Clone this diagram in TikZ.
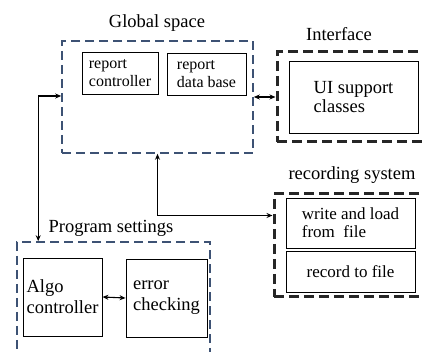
\documentclass[tikz,border=0pt]{standalone}
\usepackage{fontspec}
\setmainfont{Liberation Serif}
\usetikzlibrary{positioning,calc,arrows.meta}
\definecolor{frameblue}{HTML}{3D5274}
\tikzset{
  >={Stealth[length=6pt,width=5pt]},
  group frame/.style={
    draw=frameblue,
    line width=1.6pt,
    dash pattern=on 9pt off 5pt,
    inner sep=0pt,
    rectangle
  },
  heavy frame/.style={
    draw=black!85,
    line width=3pt,
    dash pattern=on 10pt off 5pt,
    inner sep=0pt,
    rectangle
  },
  my box/.style={
    draw,
    line width=0.9pt,
    inner sep=3pt,
    align=left,
    font=\fontsize{17}{18.3}\selectfont
  },
  group title/.style={anchor=base,inner sep=0pt,font=\fontsize{18.5}{20}\selectfont},
  link/.style={<->,line width=1.1pt}
}

\begin{document}
\begin{tikzpicture}[x=1pt,y=-1pt]
\useasboundingbox (0,0) rectangle (423,352);
% group frames
\node[group frame,minimum width=191pt,minimum height=112pt] (gs) at (157.5,97) {};
\node[heavy frame,minimum width=153pt,minimum height=90pt] (itf) at (353.5,97) {};
\node[heavy frame,minimum width=156pt,minimum height=103pt] (rs) at (352,245.5) {};
\node[group frame,minimum width=193pt,minimum height=118pt] (ps) at (113.5,301) {};
% titles
\node[group title] (gs title) at (157,28) {Global space};
\node[group title] (itf title) at (339,40.5) {Interface};
\node[group title] (rs title) at (352,179.5) {recording system};
\node[group title] (ps title) at (111,233) {Program settings};
% boxes
\node[my box,font=\fontsize{16}{18.3}\selectfont,minimum width=76pt,minimum height=42pt] (rc) at (120,73) {report\\controller};
\node[my box,font=\fontsize{16}{18.3}\selectfont,minimum width=79pt,minimum height=42pt] (rdb) at (206.5,74) {report\\data base};
\node[my box,font=\fontsize{18.5}{18.3}\selectfont,minimum width=129pt,minimum height=72pt] (ui) at (353.5,97) {UI support\\classes};
\node[my box,minimum width=129pt,minimum height=50pt] (wl) at (350.5,223) {write and load\\from\ \ file};
\node[my box,minimum width=129pt,minimum height=41pt] (rf) at (350.5,271.5) {record to file};
\node[my box,font=\fontsize{18.5}{21}\selectfont,minimum width=79pt,minimum height=78pt] (ac) at (62.5,297) {Algo\\controller};
\node[my box,font=\fontsize{18.5}{21}\selectfont,minimum width=81pt,minimum height=78pt] (ec) at (166.5,298) {error\\checking};
% links
\draw[link] ([yshift=1pt]gs.west) -| ([xshift=22pt]ps.north west);
\draw[link] (gs.south) |- ([yshift=-23pt]rs.north west);
\draw[link] (gs.east) -- (itf.west);
\draw[link] (ac.east) -- (ec.west);
\end{tikzpicture}
\end{document}
